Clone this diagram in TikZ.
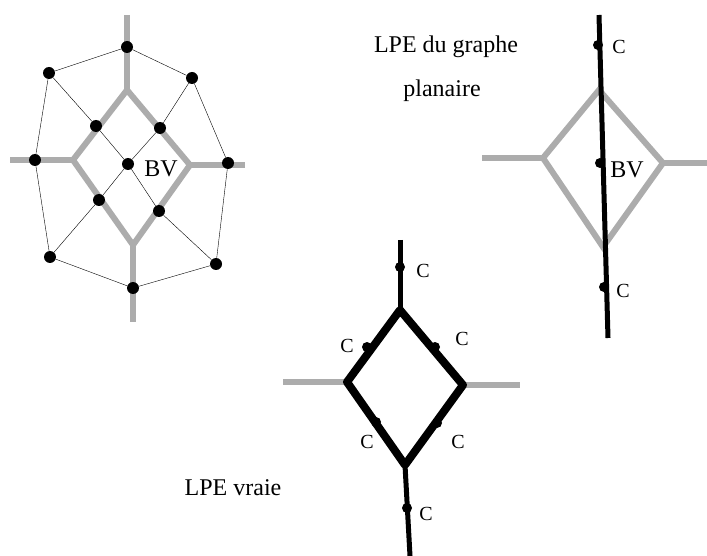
\documentclass[tikz,border=0pt]{standalone}
\usepackage{fontspec}
\setmainfont{Liberation Serif}
\tikzset{
  vtx/.style={circle, fill=black, inner sep=0pt, minimum size=12pt},
  cdot/.style={circle, fill=black, inner sep=0pt, minimum size=10pt},
  lpegray/.style={draw=gray!65, line width=6pt},
  lpeblack/.style={draw=black, line width=5pt},
  lbl/.style={anchor=base, font=\fontsize{24}{28}\selectfont},
  clbl/.style={anchor=base, font=\fontsize{20}{24}\selectfont}
}
\begin{document}
\begin{tikzpicture}[x=1pt, y=-1pt]
  \useasboundingbox (0,0) rectangle (707,556);

  % -- Graphe planaire (left) --
  \coordinate (gT) at (127,90);
  \coordinate (gL) at (73,160);
  \coordinate (gR) at (190,165);
  \coordinate (gB) at (133,245);
  \coordinate (eT) at (127,15);
  \coordinate (eL) at (10,160);
  \coordinate (eR) at (245,165);
  \coordinate (eB) at (133,322);
  \draw[lpegray] (gT) -- (gL) -- (gB) -- (gR) -- cycle;
  \draw[lpegray] (eT) -- (gT);
  \draw[lpegray] (eL) -- (gL);
  \draw[lpegray] (eR) -- (gR);
  \draw[lpegray] (gB) -- (eB);

  \node[vtx] (nt)  at (127,47) {};
  \node[vtx] (ntl) at (49,73) {};
  \node[vtx] (ntr) at (192,78) {};
  \node[vtx] (nl)  at (35,160) {};
  \node[vtx] (nr)  at (228,163) {};
  \node[vtx] (nbl) at (50,257) {};
  \node[vtx] (nbr) at (216,264) {};
  \node[vtx] (nb)  at (133,288) {};
  \node[vtx] (iul) at (96,126) {};
  \node[vtx] (iur) at (160,128) {};
  \node[vtx] (ic)  at (128,164) {};
  \node[vtx] (ill) at (99,200) {};
  \node[vtx] (ilr) at (159,211) {};

  \draw[thin] (nt) -- (ntl) -- (nl) -- (nbl) -- (nb) -- (nbr) -- (nr) -- (ntr) -- (nt);
  \draw[thin] (ntl) -- (iul) -- (ic) -- (ilr) -- (nbr);
  \draw[thin] (ntr) -- (iur) -- (ic) -- (ill) -- (nbl);
  \node[lbl] (bv1) at (161,177) {BV};

  % -- LPE du graphe planaire (right) --
  \coordinate (pT) at (599,90);
  \coordinate (pL) at (543,158);
  \coordinate (pR) at (663,163);
  \coordinate (pB) at (603,247);
  \coordinate (fL) at (482,158);
  \coordinate (fR) at (707,163);
  \coordinate (kT) at (599,15);
  \coordinate (kB) at (608,338);
  \draw[lpegray] (pT) -- (pL) -- (pB) -- (pR) -- cycle;
  \draw[lpegray] (fL) -- (pL);
  \draw[lpegray] (pR) -- (fR);
  \draw[lpeblack] (kT) -- (kB);
  \node[cdot] (c1) at (598,45) {};
  \node[cdot] (c2) at (600,163) {};
  \node[cdot] (c3) at (604,287) {};
  \node[clbl] at (619,54) {C};
  \node[lbl] (bv2) at (627,178) {BV};
  \node[clbl] at (623,298) {C};
  \node[lbl] (t1) at (446,53) {LPE du graphe};
  \node[lbl] (t2) at (442,97) {planaire};

  % -- LPE vraie (bottom) --
  \coordinate (vT) at (400,310);
  \coordinate (vL) at (347,382);
  \coordinate (vR) at (463,385);
  \coordinate (vB) at (405,465);
  \coordinate (hL) at (283,382);
  \coordinate (hR) at (520,385);
  \coordinate (wT) at (400,240);
  \coordinate (wB) at (410,556);
  \draw[lpegray] (hL) -- (vL);
  \draw[lpegray] (vR) -- (hR);
  \draw[lpeblack, line width=8pt, line join=round] (vT) -- (vL) -- (vB) -- (vR) -- cycle;
  \draw[lpeblack] (wT) -- (vT);
  \draw[lpeblack] (vB) -- (wB);
  \node[cdot] (d1) at (400,267) {};
  \node[cdot] (d2) at (367,347) {};
  \node[cdot] (d3) at (435,347) {};
  \node[cdot] (d4) at (376,422) {};
  \node[cdot] (d5) at (437,423) {};
  \node[cdot] (d6) at (407,508) {};
  \node[clbl] at (423,277) {C};
  \node[clbl] at (347,352) {C};
  \node[clbl] at (462,345) {C};
  \node[clbl] at (367,448) {C};
  \node[clbl] at (458,448) {C};
  \node[clbl] at (426,520) {C};
  \node[lbl] (t3) at (233,495) {LPE vraie};

\end{tikzpicture}
\end{document}
